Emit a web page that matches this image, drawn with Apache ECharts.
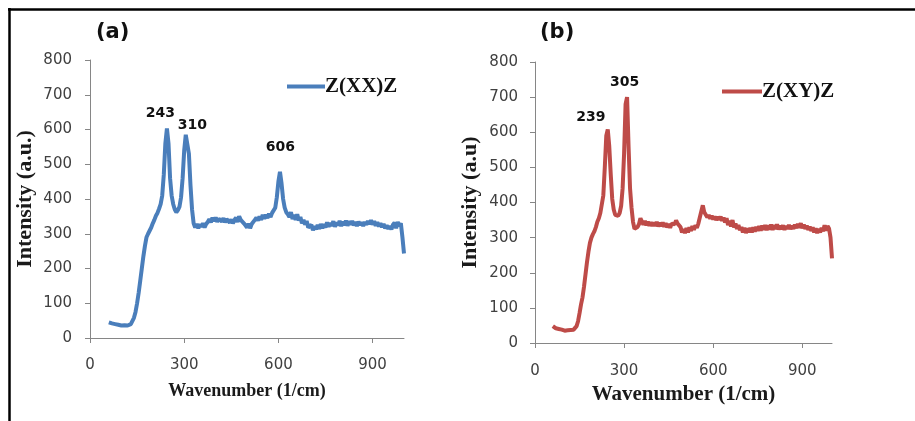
<!DOCTYPE html>
<html>
<head>
<meta charset="utf-8">
<script src="https://cdn.jsdelivr.net/npm/echarts@6/dist/echarts.min.js"></script>
<style>
  html, body { margin: 0; padding: 0; background: #fff; }
  #main { width: 915px; height: 421px; }
</style>
</head>
<body>
<div id="main"></div>
<script>
// wavenumber (1/cm), shared by both spectra
var wavenumbers = [
  60,65,70,75,80,85,90,95,100,105,110,115,120,125,130,135,140,145,150,155,
  160,165,170,175,180,185,190,195,200,205,210,215,220,225,230,235,240,245,250,255,
  260,265,270,275,280,285,290,295,300,305,310,315,320,325,330,335,340,345,350,355,
  360,365,370,375,380,385,390,395,400,405,410,415,420,425,430,435,440,445,450,455,
  460,465,470,475,480,485,490,495,500,505,510,515,520,525,530,535,540,545,550,555,
  560,565,570,575,580,585,590,595,600,605,610,615,620,625,630,635,640,645,650,655,
  660,665,670,675,680,685,690,695,700,705,710,715,720,725,730,735,740,745,750,755,
  760,765,770,775,780,785,790,795,800,805,810,815,820,825,830,835,840,845,850,855,
  860,865,870,875,880,885,890,895,900,905,910,915,920,925,930,935,940,945,950,955,
  960,965,970,975,980,985,990,995,1000
];

// (a) Z(XX)Z intensity (a.u.)
var intensityXX = [
  45,47,42,44,40,43,38,41,36,40,37,39,36,38,40,45,58,75,100,130,
  165,200,235,265,290,300,305,318,330,340,352,360,372,385,410,470,560,603,560,460,
  410,385,370,362,368,378,405,460,540,585,589,530,440,370,330,318,328,316,327,320,
  330,318,328,334,342,333,346,336,347,334,343,348,335,345,333,342,346,332,341,330,
  340,346,334,350,340,344,330,324,318,329,316,328,332,340,346,338,350,340,354,343,
  355,345,358,348,360,362,375,405,450,478,445,400,375,362,356,348,362,342,354,340,
  356,338,348,330,340,326,337,318,314,326,310,322,313,325,314,328,316,327,318,333,
  320,331,323,336,320,333,324,337,322,335,325,338,323,336,326,337,324,334,322,335,
  325,333,322,334,326,337,328,339,326,336,323,333,321,330,319,328,316,324,314,322,
  313,326,332,316,334,322,330,290,243
];

// (b) Z(XY)Z intensity (a.u.)
var intensityXY = [
  48,45,42,46,40,43,38,42,35,40,36,39,37,40,38,42,48,62,85,110,
  130,160,195,230,260,285,300,310,318,330,345,355,370,395,420,500,590,608,560,480,
  410,380,365,360,362,370,390,440,540,680,700,560,440,385,345,325,320,330,338,355,
  352,337,348,335,345,334,344,333,343,333,345,332,342,333,343,331,341,329,339,328,
  340,345,338,349,340,341,330,315,324,313,327,315,329,319,333,322,335,328,340,345,
  375,392,372,365,358,364,354,362,352,360,350,359,351,360,348,357,343,355,336,348,
  332,350,329,340,325,336,321,330,315,328,313,326,315,328,315,329,317,331,319,333,
  320,334,322,336,321,335,323,337,322,336,324,338,323,334,324,335,322,333,325,336,
  324,334,325,337,327,339,328,341,327,337,325,334,322,331,319,329,315,326,313,325,
  315,328,318,335,320,333,326,300,241
];

var peaksXX = [243, 310, 606];
var peaksXY = [239, 305];
var xTicks = [0, 300, 600, 900];

function pairs(ys) {
  var out = [];
  for (var i = 0; i < wavenumbers.length; i++) out.push([wavenumbers[i], ys[i]]);
  return out;
}
// 峰值标签：取最近的数据点高度
function peakMarks(peaks, ys, offsets) {
  return peaks.map(function (p, k) {
    var best = 0;
    for (var i = 1; i < wavenumbers.length; i++) {
      if (Math.abs(wavenumbers[i] - p) < Math.abs(wavenumbers[best] - p)) best = i;
    }
    return {
      coord: [p, ys[best]],
      label: { formatter: String(p), offset: offsets[k] }
    };
  });
}

var tickFont = { color: '#404040', fontFamily: 'DejaVu Sans', fontSize: 15 };
var axisGray = '#868686';

function xAx(idx, gap, nameSize) {
  return {
    gridIndex: idx, type: 'value', min: 0, max: 1000,
    name: 'Wavenumber (1/cm)', nameLocation: 'middle', nameGap: gap,
    nameTextStyle: { fontFamily: 'Liberation Serif', fontWeight: 'bold', fontSize: nameSize, color: '#1a1a1a' },
    axisLine: { show: true, lineStyle: { color: axisGray, width: 1 } },
    axisTick: { show: true, length: 5, customValues: xTicks, lineStyle: { color: axisGray } },
    axisLabel: Object.assign({ customValues: xTicks, margin: idx ? 21 : 20 }, tickFont),
    splitLine: { show: false }
  };
}
function yAx(idx, title, margin) {
  return {
    gridIndex: idx, type: 'value', min: 0, max: 800, interval: 100,
    name: title, nameLocation: 'middle', nameGap: 54, nameRotate: 90,
    nameTextStyle: { fontFamily: 'Liberation Serif', fontWeight: 'bold', fontSize: 22, color: '#1a1a1a' },
    axisLine: { show: true, lineStyle: { color: axisGray, width: 1 } },
    axisTick: { show: true, length: 5, lineStyle: { color: axisGray } },
    axisLabel: Object.assign({ margin: margin }, tickFont),
    splitLine: { show: false }
  };
}
function lineSeries(name, idx, ys, color, peaks, offsets) {
  return {
    name: name, type: 'line', xAxisIndex: idx, yAxisIndex: idx,
    data: pairs(ys), showSymbol: false, symbol: 'none', animation: false,
    lineStyle: { color: color, width: 4 }, itemStyle: { color: color },
    markPoint: {
      symbol: 'rect', symbolSize: 1, itemStyle: { color: 'rgba(0,0,0,0)' },
      label: {
        show: true, position: 'inside', color: '#111',
        fontFamily: 'DejaVu Sans', fontWeight: 'bold', fontSize: 14
      },
      data: peakMarks(peaks, ys, offsets)
    }
  };
}

var myChart = echarts.init(document.getElementById('main'));
var option = {
  backgroundColor: '#fff',
  animation: false,
  grid: [
    { left: 90, right: 511, top: 60, bottom: 83 },
    { left: 535, right: 83, top: 62, bottom: 78 }
  ],
  xAxis: [xAx(0, 44, 18), xAx(1, 41, 21)],
  yAxis: [yAx(0, 'Intensity (a.u.)', 18), yAx(1, 'Intensity (a.u)', 17)],
  legend: [
    {
      data: ['Z(XX)Z'], left: 282, top: 71, icon: 'rect', itemWidth: 38, itemHeight: 4, itemGap: 0,
      textStyle: { fontFamily: 'Liberation Serif', fontWeight: 'bold', fontSize: 21, color: '#111', padding: [0, 0, 0, -5] }
    },
    {
      data: ['Z(XY)Z'], left: 717, top: 76, icon: 'rect', itemWidth: 40, itemHeight: 4, itemGap: 0,
      textStyle: { fontFamily: 'Liberation Serif', fontWeight: 'bold', fontSize: 21, color: '#111', padding: [0, 0, 0, -5] }
    }
  ],
  graphic: [
    { type: 'line', shape: { x1: 8, y1: 9.5, x2: 915, y2: 9.5 }, style: { stroke: '#000', lineWidth: 2.5 } },
    { type: 'line', shape: { x1: 9.5, y1: 8, x2: 9.5, y2: 421 }, style: { stroke: '#000', lineWidth: 2.5 } },
    { type: 'text', left: 96, top: 22, style: { text: '(a)', font: 'bold 21px "DejaVu Sans"', fill: '#111' } },
    { type: 'text', left: 540, top: 22, style: { text: '(b)', font: 'bold 21px "DejaVu Sans"', fill: '#111' } }
  ],
  series: [
    lineSeries('Z(XX)Z', 0, intensityXX, '#4a7ebb', peaksXX, [[-6, -15], [5, -8], [0, -25]]),
    lineSeries('Z(XY)Z', 1, intensityXY, '#be4b48', peaksXY, [[-15, -18], [-1, -22]])
  ]
};
myChart.setOption(option);
</script>
</body>
</html>
